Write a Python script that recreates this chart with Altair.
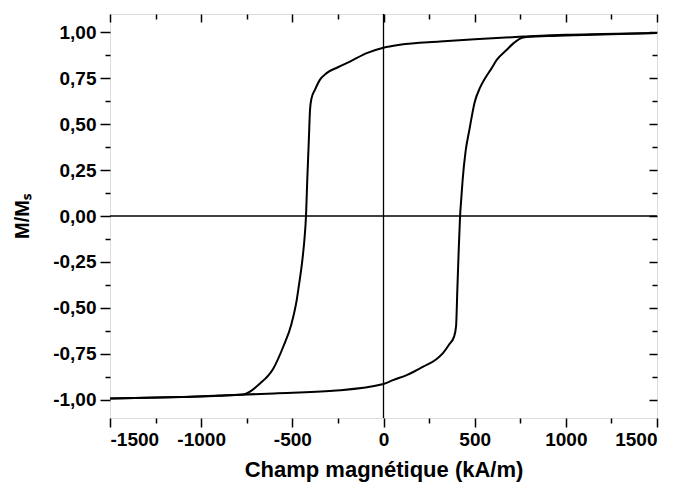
import altair as alt
import pandas as pd

# Descending branch (from +1500 to -1500 kA/m)
upper_H = [1500, 1200, 1000, 767, 500, 310, 90, 0, -92, -184, -250, -312, -350, -376,
           -395, -403, -410, -418, -425, -433, -445, -462, -476, -504, -550, -604, -677,
           -769, -900, -1100, -1300, -1500]
upper_M = [0.996, 0.991, 0.987, 0.977, 0.963, 0.95, 0.932, 0.916, 0.887, 0.841, 0.81, 0.778,
           0.74, 0.687, 0.64, 0.578, 0.40, 0.20, 0.0, -0.12, -0.24, -0.365, -0.458, -0.585,
           -0.712, -0.83, -0.912, -0.972, -0.979, -0.985, -0.99, -0.994]

# Ascending branch (from -1500 to +1500 kA/m)
lower_H = [-1500, -1300, -1100, -824, -600, -277, 0, 52, 130, 218, 290, 326, 360, 387, 398,
           405, 412, 420, 427, 434, 450, 471, 500, 530, 557, 590, 621, 676, 712, 766, 900,
           1100, 1300, 1500]
lower_M = [-0.994, -0.99, -0.985, -0.975, -0.966, -0.952, -0.915, -0.894, -0.865, -0.82,
           -0.78, -0.747, -0.70, -0.657, -0.60, -0.40, -0.20, 0.0, 0.10, 0.196, 0.35, 0.469,
           0.62, 0.70, 0.75, 0.80, 0.85, 0.905, 0.94, 0.972, 0.98, 0.986, 0.991, 0.996]

x_major = [-1500, -1000, -500, 0, 500, 1000, 1500]
x_minor = [-1250, -750, -250, 250, 750, 1250]
y_major = [-1.0, -0.75, -0.5, -0.25, 0.0, 0.25, 0.5, 0.75, 1.0]
y_minor = [-0.875, -0.625, -0.375, -0.125, 0.125, 0.375, 0.625, 0.875]
zero_lines = [0]

rows = []
for i, (h, m) in enumerate(zip(lower_H, lower_M)):
    rows.append({"H": h, "M": m, "branch": "montante", "i": i})
for i, (h, m) in enumerate(zip(upper_H, upper_M)):
    rows.append({"H": h, "M": m, "branch": "descendante", "i": i})
df = pd.DataFrame(rows)

W, H = 547, 404
FONT = "Liberation Sans"

xscale = alt.Scale(domain=[-1500, 1500], nice=False, zero=False)
yscale = alt.Scale(domain=[-1.1, 1.1], nice=False, zero=False)

x_lab = "datum.value < 0 ? '-' + format(-datum.value, 'd') : format(datum.value, 'd')"
y_lab = "(datum.value < 0 ? '-' : '') + replace(format(abs(datum.value), '.2f'), '.', ',')"

common = dict(domain=False, grid=False, tickColor="black", tickWidth=1.5)

base = alt.Chart(df)

main = base.mark_line(color="black", strokeWidth=2, interpolate="monotone").encode(
    x=alt.X("H:Q", scale=xscale,
            axis=alt.Axis(orient="bottom", values=x_major, tickSize=9, labelExpr=x_lab,
                          labelFont=FONT, labelFontSize=19, labelFontWeight="bold",
                          labelColor="black", labelPadding=3,
                          title="Champ magnétique (kA/m)", titleFont=FONT,
                          titleFontSize=22, titleFontWeight="bold", titleColor="black",
                          titlePadding=10, **common)),
    y=alt.Y("M:Q", scale=yscale,
            axis=alt.Axis(orient="left", values=y_major, tickSize=10, labelExpr=y_lab,
                          labelFont=FONT, labelFontSize=19, labelFontWeight="bold",
                          labelColor="black", labelPadding=4,
                          title="M/Mₛ", titleFont=FONT, titleFontSize=20,
                          titleFontWeight="bold", titleColor="black", titlePadding=20,
                          **common)),
    detail="branch:N",
    order="i:Q",
)

minor_bl = base.mark_line(strokeOpacity=0).encode(
    x=alt.X("H:Q", scale=xscale,
            axis=alt.Axis(orient="bottom", values=x_minor, tickSize=5, labels=False,
                          title=None, **common)),
    y=alt.Y("M:Q", scale=yscale,
            axis=alt.Axis(orient="left", values=y_minor, tickSize=5, labels=False,
                          title=None, **common)),
    detail="branch:N",
)

major_tr = base.mark_line(strokeOpacity=0).encode(
    x=alt.X("H:Q", scale=xscale,
            axis=alt.Axis(orient="bottom", offset=-H, values=x_major, tickSize=8,
                          labels=False, title=None, **common)),
    y=alt.Y("M:Q", scale=yscale,
            axis=alt.Axis(orient="left", offset=-W, values=y_major, tickSize=8,
                          labels=False, title=None, **common)),
    detail="branch:N",
)

minor_tr = base.mark_line(strokeOpacity=0).encode(
    x=alt.X("H:Q", scale=xscale,
            axis=alt.Axis(orient="bottom", offset=-H, values=x_minor, tickSize=5,
                          labels=False, title=None, **common)),
    y=alt.Y("M:Q", scale=yscale,
            axis=alt.Axis(orient="left", offset=-W, values=y_minor, tickSize=5,
                          labels=False, title=None, **common)),
    detail="branch:N",
)

zero_df = pd.DataFrame({"z": zero_lines})
vline = alt.Chart(zero_df).mark_rule(color="black", strokeWidth=1.3).encode(
    x=alt.X("z:Q", scale=xscale, axis=None))
hline = alt.Chart(zero_df).mark_rule(color="black", strokeWidth=1.3).encode(
    y=alt.Y("z:Q", scale=yscale, axis=None))

chart = alt.layer(vline, hline, main, minor_bl, major_tr, minor_tr).resolve_axis(
    x="independent", y="independent"
).properties(
    width=W, height=H,
    autosize=alt.AutoSizeParams(type="none"),
    padding={"left": 102, "top": 6, "right": 15, "bottom": 64},
).configure_view(stroke="black", strokeWidth=1.5).configure(background="white")

chart.save("out.html", embed_options={"renderer": "svg", "actions": False})
